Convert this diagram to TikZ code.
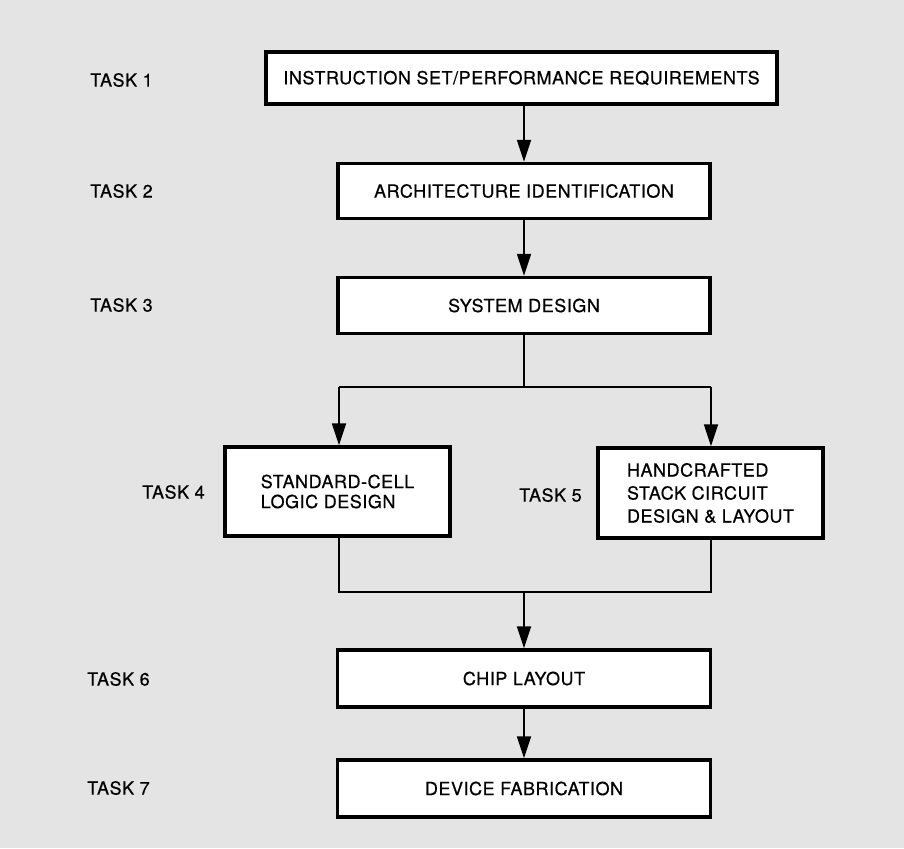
\documentclass[tikz,border=0pt]{standalone}
\usepackage{fontspec}
\setmainfont{TeX Gyre Heros}[LetterSpace=3, FakeBold=0.6]
\usetikzlibrary{arrows.meta}
\definecolor{bg}{HTML}{E4E4E4}
\tikzset{
  box/.style={draw=black, fill=white, line width=3.5pt, inner sep=0pt, font=\fontsize{18}{21}\selectfont},
  tasklabel/.style={anchor=west, inner sep=0pt, font=\fontsize{18}{21}\selectfont},
  conn/.style={line width=1.8pt, draw=black},
  arr/.style={conn, -{Triangle[length=22pt, width=14pt]}},
}
\begin{document}
\begin{tikzpicture}[x=1pt, y=-1pt]
\fill[bg] (0,0) rectangle (904,848);
\useasboundingbox (0,0) rectangle (904,848);

\node[box, minimum width=511pt, minimum height=52pt] (b1) at (521.5,78) {INSTRUCTION SET/PERFORMANCE REQUIREMENTS};
\node[box, minimum width=372pt, minimum height=55pt] (b2) at (524,191) {ARCHITECTURE IDENTIFICATION};
\node[box, minimum width=372pt, minimum height=56pt] (b3) at (524,305.5) {SYSTEM DESIGN};
\node[box, minimum width=225pt, minimum height=89pt, align=left, font=\fontsize{18}{20}\selectfont] (b4) at (337.5,491.5) {STANDARD-CELL\\LOGIC DESIGN};
\node[box, minimum width=225pt, minimum height=90pt, align=left, font=\fontsize{18}{23}\selectfont] (b5) at (710.5,493) {HANDCRAFTED\\STACK CIRCUIT\\DESIGN \& LAYOUT};
\node[box, minimum width=373pt, minimum height=57pt] (b6) at (524,678.5) {CHIP LAYOUT};
\node[box, minimum width=373pt, minimum height=57pt] (b7) at (524,788.5) {DEVICE FABRICATION};

\node[tasklabel] (t1) at (90,80) {TASK 1};
\node[tasklabel] (t2) at (90,191) {TASK 2};
\node[tasklabel] (t3) at (90,305) {TASK 3};
\node[tasklabel] (t4) at (142,492) {TASK 4};
\node[tasklabel] (t5) at (519,495) {TASK 5};
\node[tasklabel] (t6) at (87,679) {TASK 6};
\node[tasklabel] (t7) at (87,788) {TASK 7};

\coordinate (split) at (524,387);
\coordinate (sl) at (339,387);
\coordinate (sr) at (711,387);
\coordinate (ml) at (339,592);
\coordinate (mr) at (711,592);
\coordinate (merge) at (524,592);

\draw[arr] (b1.south -| 524,0) -- (b2.north);
\draw[arr] (b2.south) -- (b3.north);
\draw[conn] (b3.south) -- (split);
\draw[conn] (sl) -- (sr);
\draw[arr] (sl) -- (sl |- b4.north);
\draw[arr] (sr) -- (sr |- b5.north);
\draw[conn] (ml |- b4.south) -- (ml) -- (mr) -- (mr |- b5.south);
\draw[arr] (merge) -- (b6.north);
\draw[arr] (b6.south) -- (b7.north);
\end{tikzpicture}
\end{document}
